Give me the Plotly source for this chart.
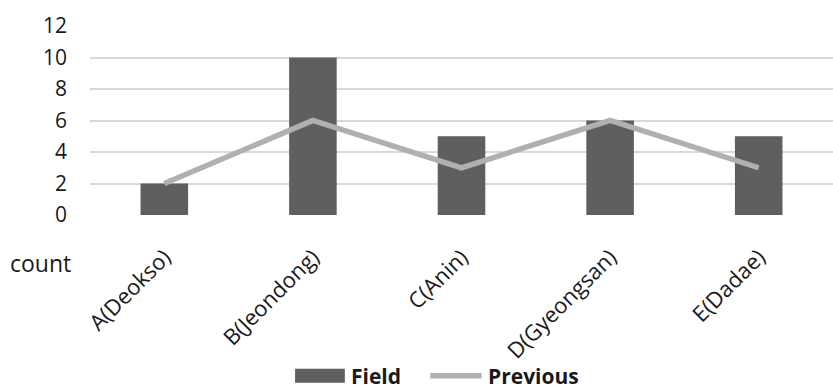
import plotly.graph_objects as go

# Sites and counts
sites = ["A(Deokso)", "B(Jeondong)", "C(Anin)", "D(Gyeongsan)", "E(Dadae)"]
field = [2, 10, 5, 6, 5]
previous = [2, 6, 3, 6, 3]
y_ticks = [0, 2, 4, 6, 8, 10, 12]

BAR = "#5f5f5f"
LINE = "#b0b0b0"
TEXT = "#1a1a1a"
FONT = "Open Sans, Noto Sans, sans-serif"

fig = go.Figure()
fig.add_trace(go.Bar(x=sites, y=field, name="Field", marker_color=BAR,
                     marker_line_width=0, showlegend=False))
fig.add_trace(go.Scatter(x=sites, y=previous, name="Previous", mode="lines",
                         line=dict(color=LINE, width=5.5), showlegend=False))

fig.update_layout(
    width=833, height=390,
    margin=dict(l=90, r=0, t=26, b=175),
    paper_bgcolor="white", plot_bgcolor="white",
    bargap=0.68,
    font=dict(family=FONT, size=21, color=TEXT),
    xaxis=dict(tickangle=-45, showgrid=False, zeroline=False, showline=False,
               ticks="", ticklabelstandoff=24, tickfont=dict(size=22, color=TEXT)),
    yaxis=dict(range=[0, 12], tickvals=y_ticks, showgrid=True,
               gridcolor="#d9d9d9", gridwidth=1.5, zeroline=False,
               showline=False, ticks="", ticklabelstandoff=22,
               tickfont=dict(size=21, color=TEXT)),
)

# y-axis title placed beside the category labels
fig.add_annotation(text="count", xref="paper", yref="paper", x=-0.11, y=-0.254,
                   xanchor="left", yanchor="middle", showarrow=False,
                   font=dict(size=23, family=FONT, color=TEXT))

# legend drawn below the chart
LEG_Y = -0.85
fig.add_shape(type="rect", xref="paper", yref="paper",
              x0=0.276, x1=0.343, y0=LEG_Y - 0.037, y1=LEG_Y + 0.037,
              fillcolor=BAR, line_width=0)
fig.add_annotation(text="<b>Field</b>", xref="paper", yref="paper", x=0.349, y=LEG_Y,
                   xanchor="left", yanchor="middle", showarrow=False,
                   font=dict(size=21, family=FONT, color=TEXT))
fig.add_shape(type="line", xref="paper", yref="paper",
              x0=0.458, x1=0.527, y0=LEG_Y, y1=LEG_Y,
              line=dict(color=LINE, width=5.5))
fig.add_annotation(text="<b>Previous</b>", xref="paper", yref="paper", x=0.533, y=LEG_Y,
                   xanchor="left", yanchor="middle", showarrow=False,
                   font=dict(size=21, family=FONT, color=TEXT))

fig.write_html("out.html")
